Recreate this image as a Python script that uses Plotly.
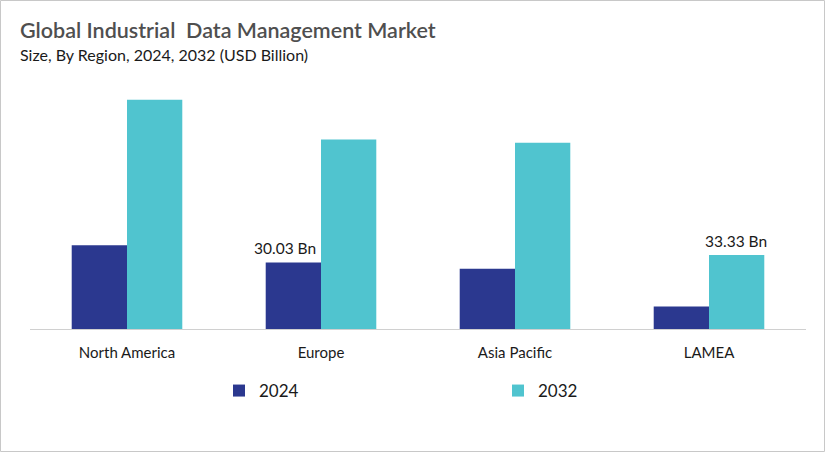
import plotly.graph_objects as go

regions = ["North America", "Europe", "Asia Pacific", "LAMEA"]
values_2024 = [37.7, 30.03, 27.2, 10.1]
values_2032 = [103.4, 85.4, 84.0, 33.33]
labels_2024 = ["", "30.03 Bn", "", ""]
labels_2032 = ["", "", "", "33.33 Bn"]

W, H = 826, 453
ML, MR, MT, MB = 30, 20, 85, 124

fig = go.Figure()
fig.add_trace(go.Bar(
    name="2024", x=regions, y=values_2024,
    marker=dict(color="#2B388F", line=dict(width=0)),
))
fig.add_trace(go.Bar(
    name="2032", x=regions, y=values_2032,
    marker=dict(color="#50C4CF", line=dict(width=0)),
))

pw = W - ML - MR
ph = H - MT - MB

label_font = dict(family="Lato", size=15.5, color="#1a1a1a")
annotations = []
for r, v, t in zip(regions, values_2024, labels_2024):
    if t:
        annotations.append(dict(x=r, y=v, text=t, xref="x", yref="y",
                                xanchor="right", yanchor="bottom", xshift=-3, yshift=3,
                                showarrow=False, font=label_font))
for r, v, t in zip(regions, values_2032, labels_2032):
    if t:
        annotations.append(dict(x=r, y=v, text=t, xref="x", yref="y",
                                xanchor="center", yanchor="bottom", xshift=27, yshift=3,
                                showarrow=False, font=label_font))

annotations += [
    dict(text="Global Industrial  Data Management Market",
         xref="paper", yref="paper", x=-(ML - 18) / pw, y=1 + (MT - 30) / ph,
         xanchor="left", yanchor="middle", showarrow=False,
         font=dict(family="Lato", size=21.5, color="#4f4f4f", weight=600)),
    dict(text="Size, By Region, 2024, 2032 (USD Billion)",
         xref="paper", yref="paper", x=-(ML - 18) / pw, y=1 + (MT - 54) / ph,
         xanchor="left", yanchor="middle", showarrow=False,
         font=dict(family="Lato", size=16, color="#1a1a1a")),
]

fig.update_layout(
    width=W, height=H,
    margin=dict(l=ML, r=MR, t=MT, b=MB),
    paper_bgcolor="white", plot_bgcolor="white",
    barmode="group", bargap=0.43, bargroupgap=0,
    font=dict(family="Lato", color="#1a1a1a"),
    showlegend=True,
    legend=dict(
        orientation="h", x=(219 - ML) / pw, xanchor="left",
        y=-(391 - (H - MB)) / ph, yanchor="middle",
        font=dict(family="Lato", size=17, color="#1a1a1a"),
        entrywidth=234, entrywidthmode="pixels",
        itemwidth=30, traceorder="normal",
    ),
    xaxis=dict(
        showline=True, linecolor="#d0d0d0", linewidth=1,
        ticks="outside", ticklen=10, tickcolor="rgba(0,0,0,0)", showgrid=False,
        tickfont=dict(family="Lato", size=15, color="#1a1a1a"),
    ),
    yaxis=dict(range=[0, 110], visible=False, showgrid=False),
    annotations=annotations,
    shapes=[
        dict(type="rect", xref="paper", yref="paper",
             x0=-(ML - 0.5) / pw, x1=1 + (MR - 1.5) / pw,
             y0=-(MB - 1.5) / ph, y1=1 + (MT - 0.5) / ph,
             line=dict(color="#c8c8c8", width=1), fillcolor="rgba(0,0,0,0)",
             layer="below"),
    ],
)

fig.write_html(
    "out.html",
    config={"displayModeBar": False},
    post_script="document.body.style.margin='0';document.body.style.overflow='hidden';",
)
